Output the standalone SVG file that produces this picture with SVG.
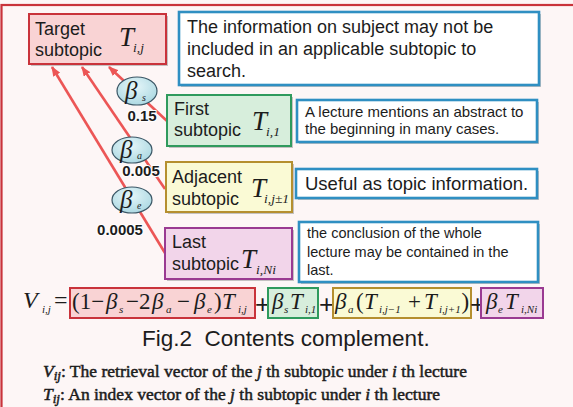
<svg xmlns="http://www.w3.org/2000/svg" width="573" height="407" viewBox="0 0 573 407">
<defs>
<style>
.sans{font-family:"Liberation Sans",Arial,sans-serif;fill:#1c1c1c}
.lbl{font-size:18px}
.math{font-family:"Liberation Serif","Times New Roman",serif;font-style:italic;fill:#1c1c1c}
.rm{font-family:"Liberation Serif","Times New Roman",serif;fill:#1c1c1c}
.big{font-size:27px}
.fx{font-size:23px}
.sub{font-size:13.5px}
.fsub{font-size:11px}
.conn{stroke:#ec5656;stroke-width:2.6;fill:none;marker-end:url(#ah)}
.shadow{fill:#8c8c8c;opacity:.5}
.num{font-family:"Liberation Sans",Arial,sans-serif;font-weight:bold;font-size:15px;fill:#1c1c1c;text-anchor:middle;stroke:#ffffff;stroke-width:2;paint-order:stroke}
.note{fill:#ffffff;stroke:#2f8fc2;stroke-width:2.6}
.beta{fill:url(#bg);stroke:#3b5766;stroke-width:1.2}
.plus{font-family:"Liberation Sans",Arial,sans-serif;font-size:26px;fill:#1c1c1c}
.red{fill:#f9d3d4;stroke:#c9333b;stroke-width:2}
.grn{fill:#d7eedc;stroke:#2f9a5d;stroke-width:2}
.yel{fill:#fafad5;stroke:#b58f2f;stroke-width:2}
.pur{fill:#f2d5ea;stroke:#9a3a92;stroke-width:2}
.legend{font-family:"Liberation Serif","Times New Roman",serif;font-size:17.5px;fill:#1c1c1c;stroke:#1c1c1c;stroke-width:0.5}
</style>
<marker id="ah" viewBox="0 0 10 8" refX="9" refY="4" markerWidth="10" markerHeight="8" markerUnits="userSpaceOnUse" orient="auto">
<path d="M0,0 L10,4 L0,8 z" fill="#ec5656"/>
</marker>
<radialGradient id="bg" cx="0.45" cy="0.35" r="0.7">
<stop offset="0" stop-color="#e6f6f9"/>
<stop offset="1" stop-color="#a9d7e1"/>
</radialGradient>
</defs>

<!-- page background and frame -->
<rect x="0" y="0" width="573" height="407" fill="#fdf6f6"/>
<rect x="1.5" y="5" width="620" height="450" fill="none" stroke="#c9333b" stroke-width="2.2"/>

<!-- connectors -->
<g id="connectors">
<line class="conn" x1="167" y1="121" x2="109" y2="67"/>
<line class="conn" x1="165" y1="189" x2="82" y2="67"/>
<line class="conn" x1="165" y1="253" x2="52" y2="67"/>
</g>

<!-- target subtopic -->
<g id="target">
<rect class="shadow" x="31" y="16" width="137" height="50"/>
<rect class="red" x="29" y="14" width="137" height="50"/>
<text class="sans lbl" x="35" y="35">Target</text>
<text class="sans lbl" x="35" y="56">subtopic</text>
<text class="math big" x="119" y="46">T</text>
<text class="math sub" x="133" y="52">i,j</text>
</g>

<g id="note-target">
<rect class="shadow" x="181" y="14" width="360" height="73"/>
<rect class="note" x="179" y="12" width="360" height="73"/>
<text class="sans lbl" x="187" y="33">The information on subject may not be</text>
<text class="sans lbl" x="187" y="55">included in an applicable subtopic to</text>
<text class="sans lbl" x="187" y="77">search.</text>
</g>

<!-- first subtopic -->
<g id="first">
<rect class="shadow" x="169" y="97" width="124" height="51"/>
<rect class="grn" x="167" y="95" width="124" height="51"/>
<text class="sans lbl" x="174" y="115">First</text>
<text class="sans lbl" x="174" y="136">subtopic</text>
<text class="math big" x="252" y="130">T</text>
<text class="math sub" x="266" y="136">i,1</text>
</g>

<g id="note-first">
<rect class="shadow" x="299" y="102" width="240" height="42"/>
<rect class="note" x="297" y="100" width="240" height="42"/>
<text class="sans" font-size="15" x="305" y="117">A lecture mentions an abstract to</text>
<text class="sans" font-size="15" x="305" y="134">the beginning in many cases.</text>
</g>

<!-- adjacent subtopic -->
<g id="adjacent">
<rect class="shadow" x="168" y="164" width="126" height="50"/>
<rect class="yel" x="166" y="162" width="126" height="50"/>
<text class="sans lbl" x="172" y="183">Adjacent</text>
<text class="sans lbl" x="172" y="205">subtopic</text>
<text class="math big" x="251" y="197">T</text>
<text class="math sub" x="264" y="203">i,j±1</text>
</g>

<g id="note-adjacent">
<rect class="shadow" x="298" y="171" width="241" height="29"/>
<rect class="note" x="296" y="169" width="241" height="29"/>
<text class="sans" font-size="18.5" x="305" y="190">Useful as topic information.</text>
</g>

<!-- last subtopic -->
<g id="last">
<rect class="shadow" x="167" y="230" width="127" height="51"/>
<rect class="pur" x="165" y="228" width="127" height="51"/>
<text class="sans lbl" x="172" y="248">Last</text>
<text class="sans lbl" x="172" y="270">subtopic</text>
<text class="math big" x="241" y="268">T</text>
<text class="math sub" x="256" y="274">i,Ni</text>
</g>

<g id="note-last">
<rect class="shadow" x="301" y="224" width="239" height="60"/>
<rect class="note" x="299" y="222" width="239" height="60"/>
<text class="sans" font-size="14.5" x="307" y="238">the conclusion of the whole</text>
<text class="sans" font-size="14.5" x="307" y="257">lecture may be contained in the</text>
<text class="sans" font-size="14.5" x="307" y="275">last.</text>
</g>

<!-- weights -->
<g id="beta-s">
<ellipse class="beta" cx="137" cy="91" rx="20" ry="14"/>
<text class="math" font-size="25" x="125" y="99">β</text>
<text class="math" font-size="10" x="142" y="101">s</text>
<text class="num" x="142" y="121">0.15</text>
</g>
<g id="beta-a">
<ellipse class="beta" cx="132" cy="150" rx="20" ry="13"/>
<text class="math" font-size="25" x="120" y="158">β</text>
<text class="math" font-size="10" x="137" y="159">a</text>
<text class="num" x="141" y="176">0.005</text>
</g>
<g id="beta-e">
<ellipse class="beta" cx="132" cy="200" rx="20" ry="13"/>
<text class="math" font-size="25" x="120" y="208">β</text>
<text class="math" font-size="10" x="137" y="209">e</text>
<text class="num" x="120" y="235">0.0005</text>
</g>

<!-- formula -->
<g id="formula">
<text class="math" font-size="24" x="23" y="308">V</text>
<text class="math fsub" x="42" y="313">i,j</text>
<text class="rm" font-size="24" x="54" y="308">=</text>

<rect class="red" x="70" y="288" width="185" height="30"/>
<text class="rm fx" x="72" y="309">(1−</text>
<text class="math fx" x="106" y="309">β</text>
<text class="math fsub" x="119" y="313">s</text>
<text class="rm fx" x="126" y="309">−2</text>
<text class="math fx" x="152" y="309">β</text>
<text class="math fsub" x="166" y="313">a</text>
<text class="rm fx" x="177" y="309">−</text>
<text class="math fx" x="194" y="309">β</text>
<text class="math fsub" x="207" y="313">e</text>
<text class="rm fx" x="214" y="309">)</text>
<text class="math fx" x="222" y="309">T</text>
<text class="math fsub" x="238" y="313">i,j</text>

<text class="plus" x="255" y="313">+</text>

<rect class="grn" x="268" y="288" width="50" height="30"/>
<text class="math fx" x="272" y="309">β</text>
<text class="math fsub" x="284" y="313">s</text>
<text class="math fx" x="290" y="309">T</text>
<text class="math fsub" x="305" y="313">i,1</text>

<text class="plus" x="319" y="313">+</text>

<rect class="yel" x="333" y="288" width="138" height="30"/>
<text class="math fx" x="335" y="309">β</text>
<text class="math fsub" x="348" y="313">a</text>
<text class="rm fx" x="356" y="309">(</text>
<text class="math fx" x="364" y="309">T</text>
<text class="math fsub" x="379" y="313">i,j−1</text>
<text class="rm fx" x="408" y="309">+</text>
<text class="math fx" x="424" y="309">T</text>
<text class="math fsub" font-size="10.5" x="439" y="313">i,j+1</text>
<text class="rm fx" x="461.5" y="309">)</text>

<text class="plus" x="470" y="313">+</text>

<rect class="pur" x="481" y="288" width="62" height="30"/>
<text class="math fx" x="486" y="309">β</text>
<text class="math fsub" x="498" y="313">e</text>
<text class="math fx" x="505" y="309">T</text>
<text class="math fsub" x="521" y="313">i,Ni</text>
</g>

<!-- caption and legend -->
<text class="sans" font-size="22.5" x="142" y="346" xml:space="preserve">Fig.2  Contents complement.</text>

<text class="legend" x="43" y="377"><tspan font-style="italic">V</tspan><tspan font-style="italic" font-size="13" dy="3">ij</tspan><tspan dy="-3">: The retrieval vector of the </tspan><tspan font-style="italic">j</tspan> th subtopic under <tspan font-style="italic">i</tspan> th lecture</text>
<text class="legend" x="43" y="400"><tspan font-style="italic">T</tspan><tspan font-style="italic" font-size="13" dy="3">ij</tspan><tspan dy="-3">: An index vector of the </tspan><tspan font-style="italic">j</tspan> th subtopic under <tspan font-style="italic">i</tspan> th lecture</text>
</svg>
